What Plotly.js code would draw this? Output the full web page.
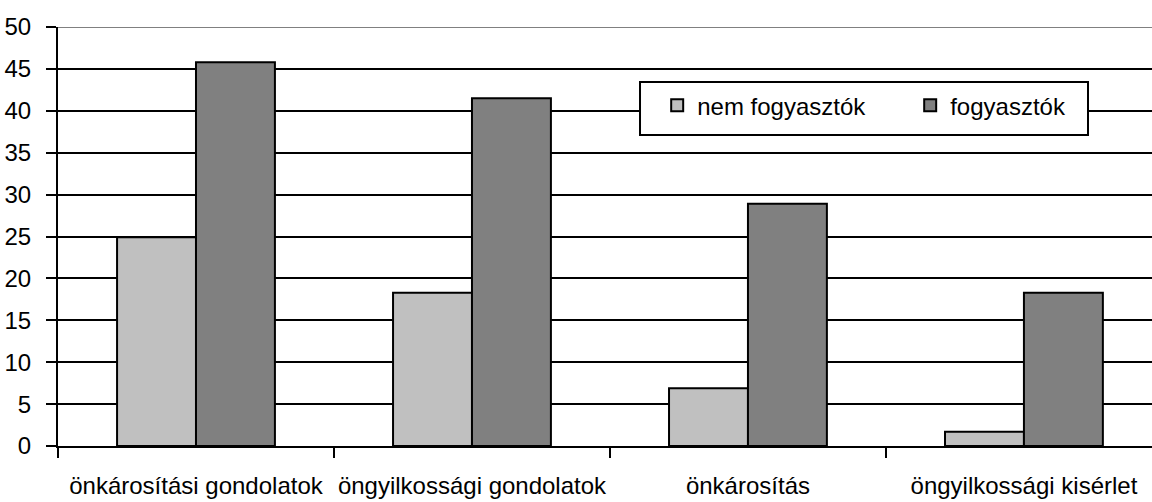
<!DOCTYPE html>
<html>
<head>
<meta charset="utf-8">
<script src="https://cdn.plot.ly/plotly-3.0.1.min.js"></script>
<style>html,body{margin:0;padding:0;background:#fff;}#chart{width:1152px;height:502px;}</style>
</head>
<body>
<div id="chart"></div>
<script>
const categories = ["önkárosítási gondolatok", "öngyilkossági gondolatok", "önkárosítás", "öngyilkossági kisérlet"];
const seriesNames = ["nem fogyasztók", "fogyasztók"];
const nemFogyasztok = [24.9, 18.3, 6.9, 1.7];
const fogyasztok = [45.8, 41.5, 28.9, 18.3];
const yTicks = [0, 5, 10, 15, 20, 25, 30, 35, 40, 45, 50];

const font = {family: "Liberation Sans, Arial, sans-serif", size: 24, color: "#000"};

const traces = [
  {type: "bar", name: seriesNames[0], x: categories, y: nemFogyasztok,
   marker: {color: "#c0c0c0", line: {color: "#000", width: 2}}},
  {type: "bar", name: seriesNames[1], x: categories, y: fogyasztok,
   marker: {color: "#808080", line: {color: "#000", width: 2}}}
];

const layout = {
  width: 1152, height: 502,
  margin: {l: 58, r: 0, t: 27, b: 56, pad: 0, autoexpand: false},
  paper_bgcolor: "#fff", plot_bgcolor: "#fff",
  font: font,
  barmode: "group", bargap: 0.428, bargroupgap: 0,
  xaxis: {
    type: "category", range: [-0.5, 3.464], automargin: false,
    showgrid: false, showline: true, linecolor: "#000", linewidth: 2,
    ticks: "outside", tickson: "boundaries", ticklen: 10, tickwidth: 2, tickcolor: "#000",
    tickangle: 0, tickfont: font, ticklabelstandoff: 17, zeroline: false, fixedrange: true
  },
  yaxis: {
    range: [0, 50], tickvals: yTicks, ticktext: yTicks.map(String), automargin: false,
    showgrid: true, gridcolor: "#000", gridwidth: 2,
    showline: true, linecolor: "#000", linewidth: 2,
    ticks: "outside", ticklen: 10, tickwidth: 2, tickcolor: "#000",
    tickfont: font, ticklabelstandoff: 10, zeroline: false, fixedrange: true
  },
  legend: {
    orientation: "h", x: 0.5477, xanchor: "left", y: 0.866, yanchor: "top",
    bgcolor: "rgba(0,0,0,0)", borderwidth: 0,
    font: font, entrywidth: 208, traceorder: "normal"
  },
  shapes: [
    {type: "line", xref: "paper", yref: "y", x0: 0, x1: 1, y0: 50, y1: 50,
     line: {color: "#808080", width: 2}, layer: "above"},
    {type: "rect", xref: "paper", yref: "paper", x0: 0.532, x1: 0.9415, y0: 0.742, y1: 0.869,
     fillcolor: "#fff", line: {color: "#000", width: 2}, layer: "above"}
  ],
  showlegend: true
};

Plotly.newPlot("chart", traces, layout, {displayModeBar: false, staticPlot: true});
</script>
</body>
</html>
